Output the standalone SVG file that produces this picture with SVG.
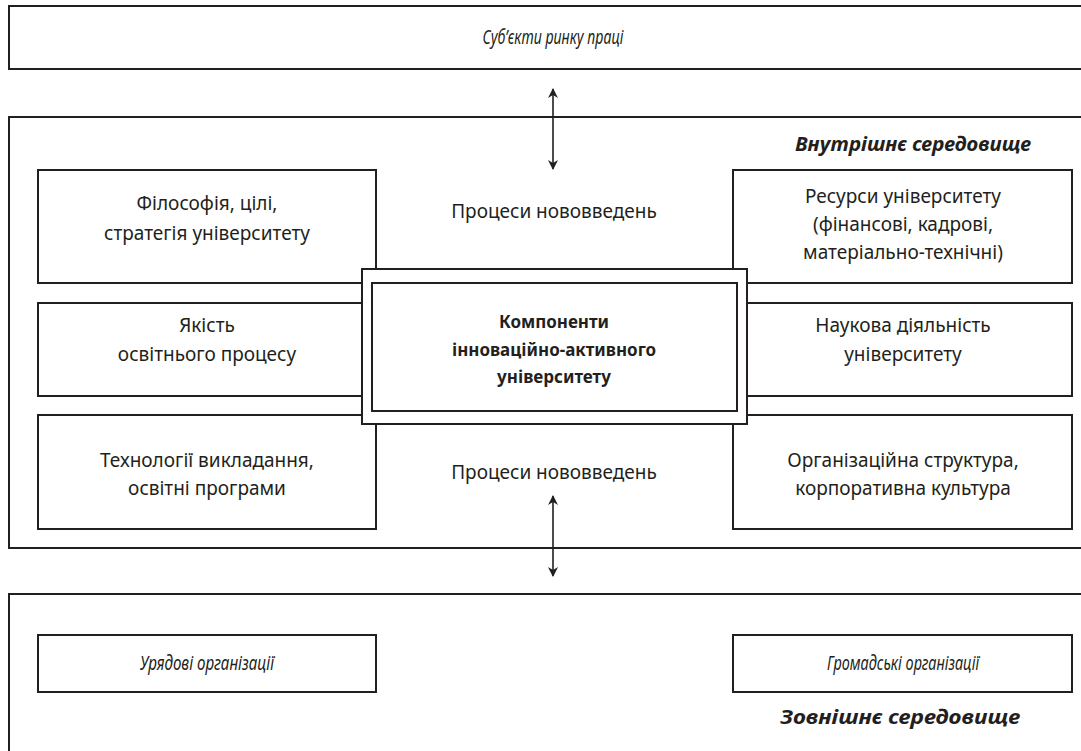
<svg xmlns="http://www.w3.org/2000/svg" width="1081" height="751" viewBox="0 0 1081 751">
<defs>
<style>
.box{fill:#fff;stroke:#231f20;stroke-width:2}
.t{font-family:"Noto Sans","Open Sans","DejaVu Sans",sans-serif;font-size:19px;fill:#231f20;text-anchor:middle}
.it{font-style:italic;font-size:20px}
.bi{font-style:italic;font-weight:bold;font-size:20px}
.b{font-weight:bold;font-size:17px}
.con{stroke:#231f20;stroke-width:1.6;fill:none}
</style>
<marker id="ah" viewBox="0 0 10 10" refX="9" refY="5" markerWidth="10" markerHeight="10" markerUnits="userSpaceOnUse" orient="auto-start-reverse">
<path d="M0,0 L10,5 L0,10 L3,5 Z" fill="#231f20"/>
</marker>
</defs>
<rect width="1081" height="751" fill="#fff"/>

<g id="labour-market">
<rect class="box" x="9" y="6" width="1090" height="63"/>
<text class="t it" x="553" y="44" textLength="141" lengthAdjust="spacingAndGlyphs">Суб’єкти ринку праці</text>
</g>

<g id="internal-env">
<rect class="box" x="9" y="117" width="1090" height="431"/>
<text class="t bi" x="913" y="151" textLength="236" lengthAdjust="spacingAndGlyphs">Внутрішнє середовище</text>
</g>

<g id="external-env">
<rect class="box" x="9" y="594" width="1090" height="180"/>
<text class="t bi" x="900" y="724" textLength="240" lengthAdjust="spacingAndGlyphs">Зовнішнє середовище</text>
</g>

<g id="philosophy">
<rect class="box" x="38" y="170" width="338" height="113"/>
<text class="t" x="207" y="210">Філософія, цілі,</text>
<text class="t" x="207" y="240">стратегія університету</text>
</g>

<g id="quality">
<rect class="box" x="38" y="303" width="338" height="93"/>
<text class="t" x="207" y="332">Якість</text>
<text class="t" x="207" y="361">освітнього процесу</text>
</g>

<g id="technologies">
<rect class="box" x="38" y="415" width="338" height="114"/>
<text class="t" x="207" y="467">Технології викладання,</text>
<text class="t" x="207" y="495">освітні програми</text>
</g>

<g id="resources">
<rect class="box" x="733" y="170" width="339" height="113"/>
<text class="t" x="903" y="203">Ресурси університету</text>
<text class="t" x="903" y="231">(фінансові, кадрові,</text>
<text class="t" x="903" y="259">матеріально-технічні)</text>
</g>

<g id="science">
<rect class="box" x="733" y="303" width="339" height="93"/>
<text class="t" x="903" y="332">Наукова діяльність</text>
<text class="t" x="903" y="361">університету</text>
</g>

<g id="organisation">
<rect class="box" x="733" y="415" width="339" height="114"/>
<text class="t" x="903" y="467">Організаційна  структура,</text>
<text class="t" x="903" y="495">корпоративна культура</text>
</g>

<g id="innovation-top">
<text class="t" x="554" y="218">Процеси нововведень</text>
</g>
<g id="innovation-bottom">
<text class="t" x="554" y="479">Процеси нововведень</text>
</g>

<g id="components">
<rect class="box" x="362" y="269" width="385" height="155"/>
<rect class="box" x="372" y="283" width="365" height="128"/>
<text class="t b" x="554" y="328">Компоненти</text>
<text class="t b" x="554" y="356">інноваційно-активного</text>
<text class="t b" x="554" y="383">університету</text>
</g>

<g id="government">
<rect class="box" x="38" y="635" width="338" height="57"/>
<text class="t it" x="207" y="670" textLength="134" lengthAdjust="spacingAndGlyphs">Урядові організації</text>
</g>

<g id="public">
<rect class="box" x="733" y="635" width="339" height="57"/>
<text class="t it" x="903" y="670" textLength="152" lengthAdjust="spacingAndGlyphs">Громадські організації</text>
</g>

<g id="connectors">
<line class="con" x1="553" y1="89" x2="553" y2="169" marker-start="url(#ah)" marker-end="url(#ah)"/>
<line class="con" x1="553" y1="496" x2="553" y2="576" marker-start="url(#ah)" marker-end="url(#ah)"/>
</g>
</svg>
